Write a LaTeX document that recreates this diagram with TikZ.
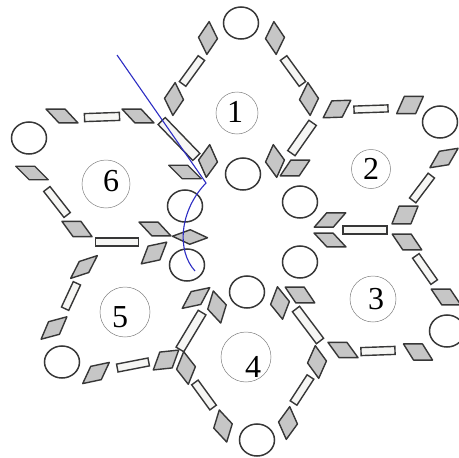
\documentclass[tikz,border=0pt]{standalone}
\usepackage{fontspec}
\setmainfont{Liberation Serif}
\usetikzlibrary{shapes.geometric}
\definecolor{tilegray}{RGB}{198,198,198}
\definecolor{slabfill}{RGB}{246,246,244}
\definecolor{rimgray}{RGB}{55,55,55}
\definecolor{wallblue}{RGB}{45,45,195}

\newcommand{\gemtile}[4]{\draw[gem,shift={(#1,-#2)}] (#3+180:9.5) ++(#4+180:9.5) -- ++(#3:19) -- ++(#4:19) -- ++(#3+180:19) -- cycle;}
\newcommand{\slabtile}[5]{\draw[slab,shift={(#1,-#2)},rotate=#3] (-0.5*#4,-0.5*#5) rectangle (0.5*#4,0.5*#5);}

\begin{document}
\begin{tikzpicture}[
  x=1pt, y=1pt,
  gem/.style={draw=rimgray, fill=tilegray, line width=1.4pt, line join=round},
  slab/.style={draw=rimgray, fill=slabfill, line width=1.4pt},
  ring/.style={ellipse, draw=rimgray, line width=1.5pt, minimum width=35pt, minimum height=32pt, inner sep=0pt},
  numc/.style={circle, draw=gray, line width=0.5pt, inner sep=0pt},
  digit/.style={inner sep=0pt, font=\fontsize{32}{32}\selectfont},
  wall/.style={draw=wallblue, line width=1.1pt}
]
\useasboundingbox (0,0) rectangle (459,-458);

\node[ring] (o1) at (241,-23)  {};
\node[ring] (o2) at (440,-122) {};
\node[ring] (o3) at (447,-331) {};
\node[ring] (o4) at (257,-440) {};
\node[ring] (o5) at (62,-362)  {};
\node[ring] (o6) at (29,-138)  {};
\node[ring] (i1) at (243,-174) {};
\node[ring] (i2) at (300,-202) {};
\node[ring] (i3) at (300,-262) {};
\node[ring] (i4) at (247,-292) {};
\node[ring] (i5) at (187,-265) {};
\node[ring] (i6) at (185,-206) {};

\node[numc, minimum size=42pt] (n1) at (237,-113) {};
\node[numc, minimum size=39pt] (n2) at (371,-169) {};
\node[numc, minimum size=46pt] (n3) at (373,-299) {};
\node[numc, minimum size=50pt] (n4) at (246,-357) {};
\node[numc, minimum size=50pt] (n5) at (125,-312) {};
\node[numc, minimum size=48pt] (n6) at (106,-184) {};
\node[digit] (t1) at ([shift={(-2,1)}]n1) {1};
\node[digit] (t2) at (n2) {2};
\node[digit] (t3) at ([shift={(3,0)}]n3) {3};
\node[digit] (t4) at ([shift={(7,-10)}]n4) {4};
\node[digit] (t5) at ([shift={(-5,-5)}]n5) {5};
\node[digit] (t6) at ([shift={(5,3)}]n6) {6};

\gemtile{208}{38}{56}{116}
\gemtile{174}{99}{56}{116}
\gemtile{208}{161}{54}{114}
\gemtile{275}{38}{64}{124}
\gemtile{309}{99}{64}{124}
\gemtile{275}{161}{66}{126}
\slabtile{192}{71}{54}{32}{8}
\slabtile{293}{71}{-54}{32}{8}
\slabtile{179}{139}{-46}{50}{10}
\slabtile{302}{138}{55}{37}{9}

\gemtile{295}{168}{0}{56}
\gemtile{337}{109}{2}{63}
\gemtile{410}{105}{0}{66}
\gemtile{444}{158}{9}{60}
\gemtile{405}{215}{0}{68}
\gemtile{330}{220}{0}{49}
\slabtile{371}{109}{2}{34}{7}
\slabtile{422}{188}{53}{31}{8}
\slabtile{365}{230}{0}{44}{8}

\gemtile{330}{240}{0}{-47}
\gemtile{407}{242}{0}{-56}
\gemtile{446}{297}{0}{-56}
\gemtile{418}{352}{0}{-58}
\gemtile{343}{350}{0}{-54}
\gemtile{300}{295}{0}{-56}
\slabtile{425}{269}{-55}{32}{8}
\slabtile{378}{351}{2}{34}{8}
\slabtile{308}{325}{-53}{40}{9}

\gemtile{280}{303}{69}{129}
\gemtile{317}{362}{66}{126}
\gemtile{288}{423}{54}{114}
\gemtile{217}{307}{73}{133}
\gemtile{186}{368}{68}{128}
\gemtile{223}{426}{73}{133}
\slabtile{302}{390}{57}{31}{8}
\slabtile{204}{395}{-54}{31}{8}
\slabtile{191}{331}{59}{43}{9}

\gemtile{196}{298}{12}{62}
\gemtile{166}{360}{6}{70}
\gemtile{96}{373}{12}{65}
\gemtile{54}{328}{15}{67}
\gemtile{84}{267}{18}{63}
\gemtile{154}{253}{12}{69}
\slabtile{133}{365}{11}{32}{8}
\slabtile{71}{296}{65}{28}{8}

\gemtile{155}{229}{0}{-47}
\gemtile{77}{229}{0}{-54}
\gemtile{32}{173}{0}{-45}
\gemtile{62}{116}{0}{-47}
\gemtile{138}{116}{0}{-47}
\gemtile{185}{172}{0}{-45}
\gemtile{190}{237}{20}{-25}
\slabtile{117}{242}{0}{43}{8}
\slabtile{57}{202}{-52}{33}{8}
\slabtile{102}{117}{2}{35}{8}

\coordinate (w0) at (117,-55);
\coordinate (wk) at (206,-183);
\coordinate (w1) at (195,-271);
\draw[wall] (w0) -- (wk) .. controls (180,-210) and (176,-250) .. (w1);
\end{tikzpicture}
\end{document}
